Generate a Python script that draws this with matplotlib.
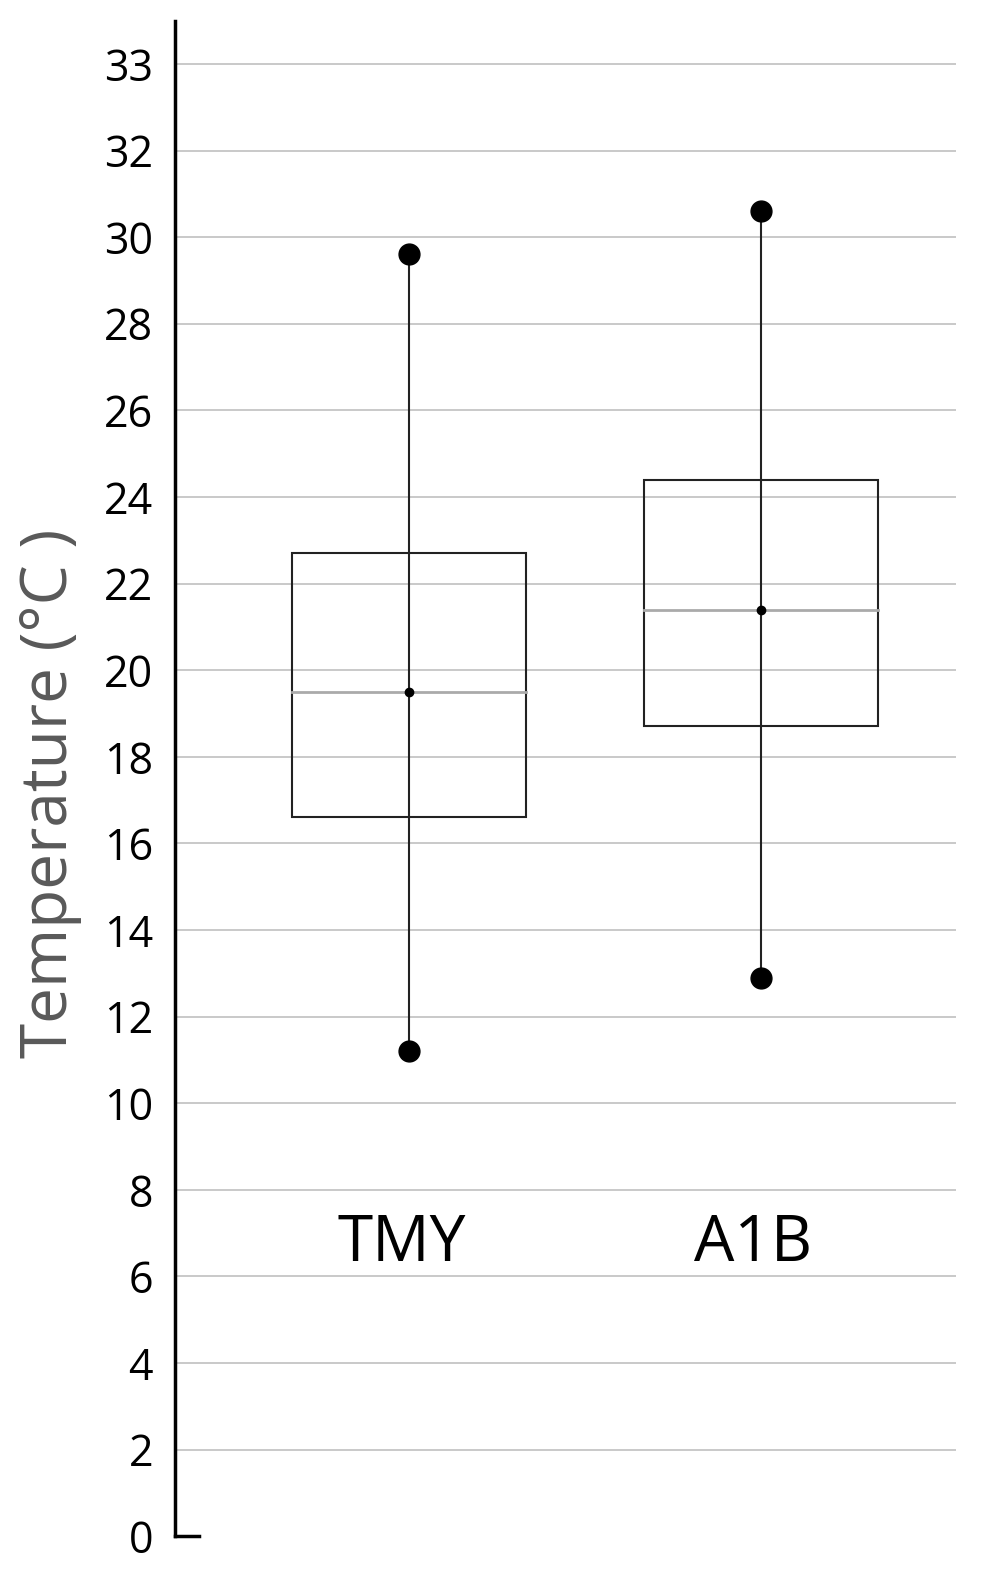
import numpy as np
import matplotlib.pyplot as plt

# data
groups = ['TMY', 'A1B']
xpos = [0.30, 0.75]
t_min = [11.2, 12.9]
t_max = [29.6, 30.6]
q_low = [16.6, 18.7]
q_high = [22.7, 24.4]
median = [19.5, 21.4]
tick_pos = list(range(0, 35, 2))
tick_lab = [str(v) for v in range(0, 33, 2)] + ['33']

fig = plt.figure(figsize=(10.08, 15.87), dpi=100)
ax = fig.add_axes([0.174, 0.032, 0.774, 0.955])
ax.set_xlim(0, 1)
ax.set_ylim(0, 35)

for y in tick_pos[1:]:
    ax.axhline(y, color='#c0c0c0', lw=1.2, zorder=0)

w = 0.30
for x, lo, hi, ql, qh, md in zip(xpos, t_min, t_max, q_low, q_high, median):
    ax.add_patch(plt.Rectangle((x - w/2, ql), w, qh - ql, fill=False, ec='#222222', lw=1.5, zorder=2))
    ax.plot([x - w/2, x + w/2], [md, md], color='#aaaaaa', lw=2, zorder=2)
    ax.plot([x, x], [lo, hi], color='#222222', lw=1.5, zorder=3)
    ax.plot([x, x], [lo, hi], 'o', color='black', ms=15, zorder=4)
    ax.plot(x, md, 'o', color='black', ms=6, zorder=4)

for x, g in zip(xpos, groups):
    ax.text(x - 0.01, 6.75, g, ha='center', va='center', fontsize=46, family='Open Sans')

ax.set_yticks(tick_pos)
ax.set_yticklabels(tick_lab, fontsize=31, family='Open Sans')
ax.set_xticks([])
for s in ['top', 'right', 'bottom']:
    ax.spines[s].set_visible(False)
ax.spines['left'].set_linewidth(2.5)
ax.plot([0, 0.03], [0, 0], color='black', lw=2.5, clip_on=False)
ax.tick_params(axis='y', length=0, pad=16)
ax.set_ylabel('Temperature (°C )', fontsize=46, color='#595959', family='Open Sans', labelpad=2)
ax.yaxis.set_label_coords(-0.12, 0.49)

plt.savefig('out.png')
